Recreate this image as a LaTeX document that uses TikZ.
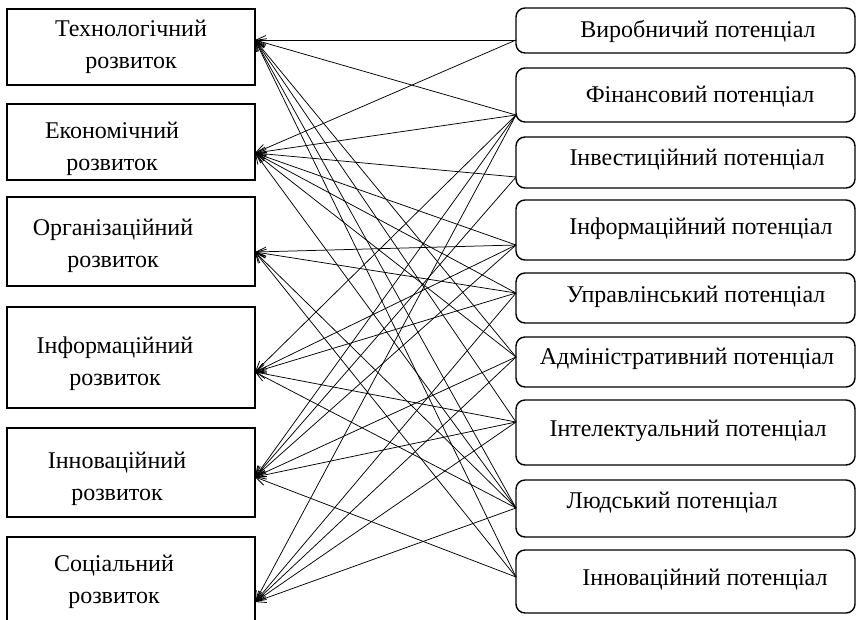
\documentclass[tikz,border=0pt]{standalone}
\usepackage{fontspec}
\setmainfont{Liberation Serif}
\usetikzlibrary{arrows.meta}
\begin{document}
\begin{tikzpicture}[x=1pt,y=-1pt,
  lbox/.style={draw, line width=1.4pt, inner sep=0pt, minimum width=248pt},
  rbox/.style={draw, line width=1.4pt, rounded corners=9pt, inner sep=0pt, minimum width=339pt},
  ltext/.style={font=\fontsize{24}{32}\selectfont, align=center, inner sep=0pt},
  rtext/.style={font=\fontsize{24}{26}\selectfont, inner sep=0pt},
  conn/.style={line width=0.75pt, -{Straight Barb[length=10pt,width=9pt,line width=0.8pt]}}
]
\useasboundingbox (0,0) rectangle (861,619);
\clip (0,0) rectangle (861,619);
% left boxes
\node[lbox, minimum height=76pt] (lb1) at (131,47) {};
\node[lbox, minimum height=76pt] (lb2) at (131,142) {};
\node[lbox, minimum height=89pt] (lb3) at (131,241.5) {};
\node[lbox, minimum height=101pt] (lb4) at (131,357.5) {};
\node[lbox, minimum height=89pt] (lb5) at (131,472.5) {};
\node[lbox, minimum height=103pt] (lb6) at (131,588.5) {};
\node[ltext] (lt1) at (131,47) {Технологічний\\розвиток};
\node[ltext] (lt2) at (112,149) {Економічний\\розвиток};
\node[ltext] (lt3) at (113,246) {Організаційний\\розвиток};
\node[ltext] (lt4) at (115,364) {Інформаційний\\розвиток};
\node[ltext] (lt5) at (117,479) {Інноваційний\\розвиток};
\node[ltext] (lt6) at (114,582) {Соціальний\\розвиток};
% right boxes
\node[rbox, minimum height=45pt] (rb1) at (685.5,30.5) {};
\node[rbox, minimum height=54pt] (rb2) at (685.5,95) {};
\node[rbox, minimum height=51pt] (rb3) at (685.5,162.5) {};
\node[rbox, minimum height=60pt] (rb4) at (685.5,230) {};
\node[rbox, minimum height=50pt] (rb5) at (685.5,298) {};
\node[rbox, minimum height=50pt] (rb6) at (685.5,362) {};
\node[rbox, minimum height=65pt] (rb7) at (685.5,432.5) {};
\node[rbox, minimum height=57pt] (rb8) at (685.5,508.5) {};
\node[rbox, minimum height=63pt] (rb9) at (685.5,581.5) {};
\node[rtext] (rt1) at (698,31) {Виробничий потенціал};
\node[rtext] (rt2) at (700,97) {Фінансовий потенціал};
\node[rtext] (rt3) at (697,160) {Інвестиційний потенціал};
\node[rtext] (rt4) at (701,229) {Інформаційний потенціал};
\node[rtext] (rt5) at (696,297) {Управлінський потенціал};
\node[rtext] (rt6) at (687,359) {Адміністративний потенціал};
\node[rtext] (rt7) at (688,431) {Інтелектуальний потенціал};
\node[rtext] (rt8) at (672,503) {Людський потенціал};
\node[rtext] (rt9) at (705,580) {Інноваційний потенціал};
% connection points
\coordinate (l1) at (255,40);
\coordinate (l2) at (255,153);
\coordinate (l3) at (255,252);
\coordinate (l4) at (255,372);
\coordinate (l5) at (255,477);
\coordinate (l6) at (255,602);
\coordinate (r1) at (516,40);
\coordinate (r2) at (516,115);
\coordinate (r3) at (516,177);
\coordinate (r4) at (516,245);
\coordinate (r5) at (516,293);
\coordinate (r6) at (516,357);
\coordinate (r7) at (516,422);
\coordinate (r8) at (516,508);
\coordinate (r9) at (516,577);
% connectors
\foreach \r/\l in {1/1,1/2,
  2/1,2/2,2/4,2/5,2/6,
  3/2,3/5,
  4/2,4/3,4/4,4/5,
  5/2,5/3,5/4,5/6,
  6/1,6/2,6/5,6/6,
  7/1,7/4,7/5,7/6,
  8/1,8/2,8/3,8/4,8/6,
  9/1,9/3,9/5}
  \draw[conn] (r\r) -- (l\l);
\end{tikzpicture}
\end{document}
